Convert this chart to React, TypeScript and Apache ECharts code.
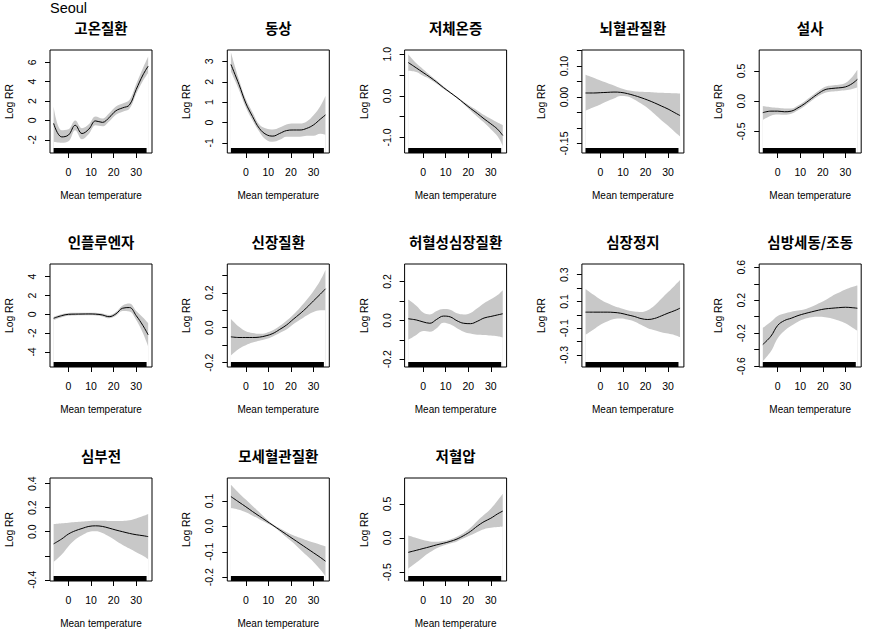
import React, { useEffect, useRef } from 'react';
import * as echarts from 'echarts';

// Mean temperature grid (°C) at which the curves are read
const temps = [-6.6, -3, 0, 3, 6, 9, 12, 15, 18, 21, 24, 27, 30, 33, 35.3];

// 고온질환
const heatFit = [-0.3, -1.7, -1.5, -0.5, -1.35, -0.9, -0.05, -0.2, 0.3, 1.0, 1.3, 1.6, 3.2, 4.7, 5.6];
const heatLo = [-2.2, -2.3, -2.15, -1.0, -1.95, -1.4, -0.5, -0.6, -0.1, 0.6, 0.9, 1.2, 2.75, 4.1, 4.9];
const heatHi = [1.45, -1.0, -0.9, 0.0, -0.8, -0.4, 0.4, 0.2, 0.75, 1.45, 1.75, 2.1, 3.75, 5.4, 6.6];
// 동상
const frostFit = [2.85, 1.86, 0.95, 0.29, -0.29, -0.59, -0.67, -0.54, -0.4, -0.37, -0.37, -0.29, -0.12, 0.16, 0.37];
const frostLo = [2.5, 1.6, 0.75, 0.1, -0.45, -0.85, -0.95, -0.85, -0.7, -0.7, -0.7, -0.65, -0.65, -0.55, -0.6];
const frostHi = [3.45, 2.1, 1.15, 0.5, -0.1, -0.3, -0.35, -0.25, -0.1, -0.05, -0.05, 0.05, 0.35, 0.8, 1.3];
// 저체온증
const hypoFit = [0.8, 0.67, 0.56, 0.45, 0.33, 0.2, 0.08, -0.04, -0.17, -0.3, -0.42, -0.55, -0.67, -0.8, -0.95];
const hypoLo = [0.6, 0.57, 0.48, 0.4, 0.29, 0.17, 0.06, -0.06, -0.2, -0.35, -0.5, -0.64, -0.8, -0.97, -1.2];
const hypoHi = [1.0, 0.78, 0.64, 0.5, 0.37, 0.23, 0.1, -0.02, -0.14, -0.25, -0.35, -0.46, -0.55, -0.64, -0.7];
// 뇌혈관질환
const cvFit = [0.013, 0.013, 0.014, 0.015, 0.016, 0.015, 0.011, 0.005, -0.002, -0.01, -0.019, -0.029, -0.039, -0.051, -0.06];
const cvLo = [-0.044, -0.033, -0.024, -0.014, -0.005, 0.003, 0.002, -0.008, -0.021, -0.036, -0.055, -0.075, -0.093, -0.113, -0.127];
const cvHi = [0.072, 0.062, 0.053, 0.045, 0.037, 0.028, 0.022, 0.019, 0.017, 0.016, 0.015, 0.014, 0.013, 0.012, 0.011];
// 설사
const diaFit = [-0.19, -0.165, -0.165, -0.175, -0.165, -0.11, -0.04, 0.045, 0.126, 0.19, 0.21, 0.22, 0.236, 0.29, 0.36];
const diaLo = [-0.31, -0.24, -0.22, -0.225, -0.21, -0.15, -0.08, 0.005, 0.085, 0.14, 0.16, 0.17, 0.18, 0.2, 0.23];
const diaHi = [-0.08, -0.1, -0.11, -0.12, -0.12, -0.07, 0.0, 0.085, 0.17, 0.24, 0.26, 0.27, 0.3, 0.4, 0.52];
// 인플루엔자
const fluFit = [-0.42, -0.14, 0.0, 0.02, 0.03, 0.04, 0.02, -0.07, -0.25, 0.05, 0.65, 0.72, -0.14, -1.2, -2.18];
const fluLo = [-0.6, -0.3, -0.15, -0.12, -0.1, -0.1, -0.12, -0.22, -0.42, -0.15, 0.35, 0.3, -0.6, -2.0, -3.4];
const fluHi = [-0.25, 0.02, 0.15, 0.16, 0.16, 0.18, 0.16, 0.08, -0.08, 0.25, 0.95, 1.15, 0.35, -0.35, -0.95];
// 신장질환
const kidFit = [-0.052, -0.056, -0.056, -0.056, -0.054, -0.046, -0.033, -0.01, 0.015, 0.048, 0.08, 0.115, 0.154, 0.192, 0.223];
const kidLo = [-0.158, -0.12, -0.1, -0.085, -0.075, -0.065, -0.05, -0.03, -0.01, 0.02, 0.045, 0.07, 0.09, 0.1, 0.1];
const kidHi = [0.05, 0.005, -0.02, -0.03, -0.035, -0.03, -0.015, 0.01, 0.04, 0.075, 0.115, 0.16, 0.21, 0.27, 0.33];
// 허혈성심장질환
const ihdFit = [0.008, 0.002, -0.008, -0.015, 0.005, 0.022, 0.018, -0.002, -0.015, -0.017, -0.005, 0.012, 0.02, 0.028, 0.034];
const ihdLo = [-0.1, -0.075, -0.055, -0.058, -0.04, -0.012, -0.02, -0.04, -0.058, -0.068, -0.074, -0.075, -0.078, -0.082, -0.088];
const ihdHi = [0.107, 0.075, 0.04, 0.03, 0.048, 0.058, 0.055, 0.036, 0.03, 0.038, 0.062, 0.088, 0.108, 0.13, 0.155];
// 심장정지
const caFit = [0.02, 0.02, 0.02, 0.02, 0.018, 0.012, 0.0, -0.012, -0.028, -0.035, -0.027, -0.008, 0.013, 0.032, 0.05];
const caLo = [-0.149, -0.11, -0.075, -0.05, -0.032, -0.027, -0.035, -0.05, -0.075, -0.1, -0.115, -0.13, -0.14, -0.152, -0.166];
const caHi = [0.194, 0.15, 0.115, 0.088, 0.066, 0.05, 0.035, 0.025, 0.022, 0.035, 0.07, 0.12, 0.17, 0.22, 0.26];
// 심방세동/조동
const afFit = [-0.337, -0.236, -0.105, -0.046, -0.018, 0.014, 0.038, 0.059, 0.079, 0.095, 0.103, 0.11, 0.115, 0.11, 0.103];
const afLo = [-0.54, -0.42, -0.26, -0.17, -0.11, -0.06, -0.025, -0.005, 0.0, -0.005, -0.02, -0.045, -0.08, -0.13, -0.17];
const afHi = [-0.135, -0.06, 0.01, 0.04, 0.06, 0.075, 0.09, 0.12, 0.16, 0.2, 0.25, 0.29, 0.33, 0.36, 0.38];
// 심부전
const hfFit = [-0.101, -0.06, -0.019, 0.008, 0.027, 0.044, 0.049, 0.044, 0.03, 0.014, 0.0, -0.014, -0.025, -0.033, -0.041];
const hfLo = [-0.252, -0.19, -0.12, -0.065, -0.03, -0.002, 0.003, -0.01, -0.04, -0.075, -0.11, -0.14, -0.17, -0.2, -0.228];
const hfHi = [0.063, 0.07, 0.075, 0.08, 0.085, 0.09, 0.092, 0.092, 0.09, 0.09, 0.09, 0.095, 0.11, 0.13, 0.148];
// 모세혈관질환
const mvFit = [0.117, 0.095, 0.077, 0.058, 0.04, 0.022, 0.004, -0.014, -0.032, -0.05, -0.068, -0.086, -0.104, -0.122, -0.137];
const mvLo = [0.072, 0.065, 0.055, 0.042, 0.028, 0.014, 0.0, -0.02, -0.043, -0.065, -0.09, -0.115, -0.14, -0.17, -0.196];
const mvHi = [0.163, 0.13, 0.105, 0.08, 0.055, 0.03, 0.008, -0.008, -0.022, -0.035, -0.045, -0.055, -0.064, -0.072, -0.078];
// 저혈압
const hypFit = [-0.21, -0.18, -0.154, -0.128, -0.1, -0.077, -0.05, -0.015, 0.036, 0.097, 0.174, 0.24, 0.29, 0.354, 0.395];
const hypLo = [-0.45, -0.36, -0.28, -0.21, -0.15, -0.11, -0.08, -0.05, -0.005, 0.04, 0.09, 0.13, 0.15, 0.16, 0.17];
const hypHi = [0.036, 0.0, -0.03, -0.05, -0.055, -0.045, -0.02, 0.02, 0.075, 0.15, 0.25, 0.34, 0.43, 0.55, 0.65];

const titles = ['고온질환', '동상', '저체온증', '뇌혈관질환', '설사', '인플루엔자', '신장질환', '허혈성심장질환', '심장정지', '심방세동/조동', '심부전', '모세혈관질환', '저혈압'];
const fits = [heatFit, frostFit, hypoFit, cvFit, diaFit, fluFit, kidFit, ihdFit, caFit, afFit, hfFit, mvFit, hypFit];
const lows = [heatLo, frostLo, hypoLo, cvLo, diaLo, fluLo, kidLo, ihdLo, caLo, afLo, hfLo, mvLo, hypLo];
const highs = [heatHi, frostHi, hypoHi, cvHi, diaHi, fluHi, kidHi, ihdHi, caHi, afHi, hfHi, mvHi, hypHi];

const yMins = [-3.36, -1.5, -1.37, -0.181, -0.857, -5.6, -0.225, -0.24, -0.39, -0.61, -0.41, -0.215, -0.63];
const yMaxs = [7.27, 3.56, 1.1, 0.152, 0.846, 5.35, 0.365, 0.29, 0.38, 0.64, 0.447, 0.19, 0.88];
const yTicks = [
  [-2, 0, 2, 4, 6],
  [-1, 0, 1, 2, 3],
  [-1, -0.5, 0, 0.5, 1],
  [-0.15, -0.1, -0.05, 0, 0.05, 0.1, 0.15],
  [-0.5, 0, 0.5],
  [-4, -2, 0, 2, 4],
  [-0.2, -0.1, 0, 0.1, 0.2, 0.3],
  [-0.2, -0.1, 0, 0.1, 0.2],
  [-0.3, -0.2, -0.1, 0, 0.1, 0.2, 0.3],
  [-0.6, -0.4, -0.2, 0, 0.2, 0.4, 0.6],
  [-0.4, -0.2, 0, 0.2, 0.4],
  [-0.2, -0.1, 0, 0.1],
  [-0.5, 0, 0.5],
];
const yLabels = [
  [-2, 0, 2, 4, 6],
  [-1, 0, 1, 2, 3],
  [-1, 0, 1],
  [-0.15, 0, 0.1],
  [-0.5, 0, 0.5],
  [-4, -2, 0, 2, 4],
  [-0.2, 0, 0.2],
  [-0.2, 0, 0.2],
  [-0.3, -0.1, 0.1, 0.3],
  [-0.6, -0.2, 0.2, 0.6],
  [-0.4, 0, 0.2, 0.4],
  [-0.2, -0.1, 0, 0.1],
  [-0.5, 0, 0.5],
];
const yDecimals = [0, 0, 1, 2, 1, 0, 1, 1, 1, 1, 1, 1, 1];
const xTicks = [0, 10, 20, 30];
const xMin = -8.2;
const xMax = 37.0;
const rugRange = [-6.6, 34.6];

const LATIN = 'Liberation Sans, Arial, sans-serif';
const CJK = 'Noto Sans CJK KR, sans-serif';
const BAND = '#c8c8c8';

export default function App() {
  const ref = useRef<HTMLDivElement>(null);
  useEffect(() => {
    const chart = echarts.init(ref.current!, null, { renderer: 'svg' });
    const grid: any[] = [];
    const xAxis: any[] = [];
    const yAxis: any[] = [];
    const series: any[] = [];
    const graphic: any[] = [
      {
        type: 'text', x: 50, y: 7.5,
        style: { text: 'Seoul', fontSize: 14.5, fontFamily: LATIN, fill: '#000', align: 'left', verticalAlign: 'middle' },
      },
    ];
    const boxW = 102;
    const boxH = 103;
    for (let i = 0; i < titles.length; i++) {
      const r = Math.floor(i / 5);
      const c = i % 5;
      const left = 50 + 177.3 * c;
      const rowTop = 214 * r;
      const top = rowTop + 50;
      grid.push({ left, top, width: boxW, height: boxH, show: false });
      xAxis.push({
        gridIndex: i, type: 'value', min: xMin, max: xMax,
        axisLine: { show: false, onZero: false }, splitLine: { show: false },
        axisTick: { show: true, length: 5, lineStyle: { color: '#000', width: 1 }, customValues: xTicks },
        axisLabel: { customValues: xTicks, margin: 13.5, fontSize: 10.5, color: '#000', fontFamily: LATIN },
        name: 'Mean temperature', nameLocation: 'middle', nameGap: 37,
        nameTextStyle: { fontSize: 10, color: '#000', fontFamily: LATIN },
      });
      const dec = yDecimals[i];
      yAxis.push({
        gridIndex: i, type: 'value', min: yMins[i], max: yMaxs[i],
        axisLine: { show: false, onZero: false }, splitLine: { show: false },
        axisTick: { show: true, length: 5, lineStyle: { color: '#000', width: 1 }, customValues: yTicks[i] },
        axisLabel: {
          customValues: yLabels[i], rotate: 90, margin: 12.5, fontSize: 10.5, color: '#000', fontFamily: LATIN,
          formatter: (v: number) => Number(v).toFixed(dec),
        },
        name: 'Log RR', nameLocation: 'middle', nameGap: 35.5,
        nameTextStyle: { fontSize: 10.3, color: '#000', fontFamily: LATIN },
      });
      const lo = lows[i];
      const hi = highs[i];
      const fit = fits[i];
      // upper confidence limit, grey area down to the axis bottom
      series.push({
        type: 'line', xAxisIndex: i, yAxisIndex: i, z: 2,
        data: temps.map((t, k) => [t, hi[k]]), symbol: 'none', smooth: 0.4, silent: true,
        lineStyle: { width: 0, opacity: 0 }, areaStyle: { color: BAND, opacity: 1, origin: 'start' },
      });
      // lower confidence limit, white area down to the axis bottom (leaves the band grey)
      series.push({
        type: 'line', xAxisIndex: i, yAxisIndex: i, z: 3,
        data: temps.map((t, k) => [t, lo[k]]), symbol: 'none', smooth: 0.4, silent: true,
        lineStyle: { width: 0, opacity: 0 }, areaStyle: { color: '#fff', opacity: 1, origin: 'start' },
      });
      series.push({
        type: 'line', xAxisIndex: i, yAxisIndex: i, z: 5,
        data: temps.map((t, k) => [t, fit[k]]), symbol: 'none', smooth: 0.4, silent: true,
        lineStyle: { color: '#000', width: 1 },
      });
      series.push({
        type: 'custom', xAxisIndex: i, yAxisIndex: i, silent: true, z: 10,
        data: [[rugRange[0], yMins[i]], [rugRange[1], yMins[i]]],
        renderItem: (params: any, api: any) => {
          if (params.dataIndex !== 0) return null;
          const cs = params.coordSys;
          const bottom = cs.y + cs.height;
          const a = api.coord([rugRange[0], yMins[i]])[0];
          const b = api.coord([rugRange[1], yMins[i]])[0];
          return { type: 'rect', shape: { x: a, y: bottom - 5, width: b - a, height: 5 }, style: { fill: '#000' } };
        },
      });
      graphic.push({
        type: 'rect', z: 100, silent: true,
        shape: { x: left, y: top, width: boxW, height: boxH },
        style: { fill: 'none', stroke: '#000', lineWidth: 1 },
      });
      graphic.push({
        type: 'text', x: left + boxW / 2, y: rowTop + 27,
        style: { text: titles[i], fontSize: 14.5, fontWeight: 'bold', fontFamily: CJK, fill: '#000', align: 'center', verticalAlign: 'middle' },
      });
    }
    chart.setOption({ animation: false, backgroundColor: '#fff', grid, xAxis, yAxis, series, graphic });
    return () => chart.dispose();
  }, []);
  return <div ref={ref} style={{ position: 'fixed', left: 0, top: 0, width: 887, height: 642 }} />;
}
